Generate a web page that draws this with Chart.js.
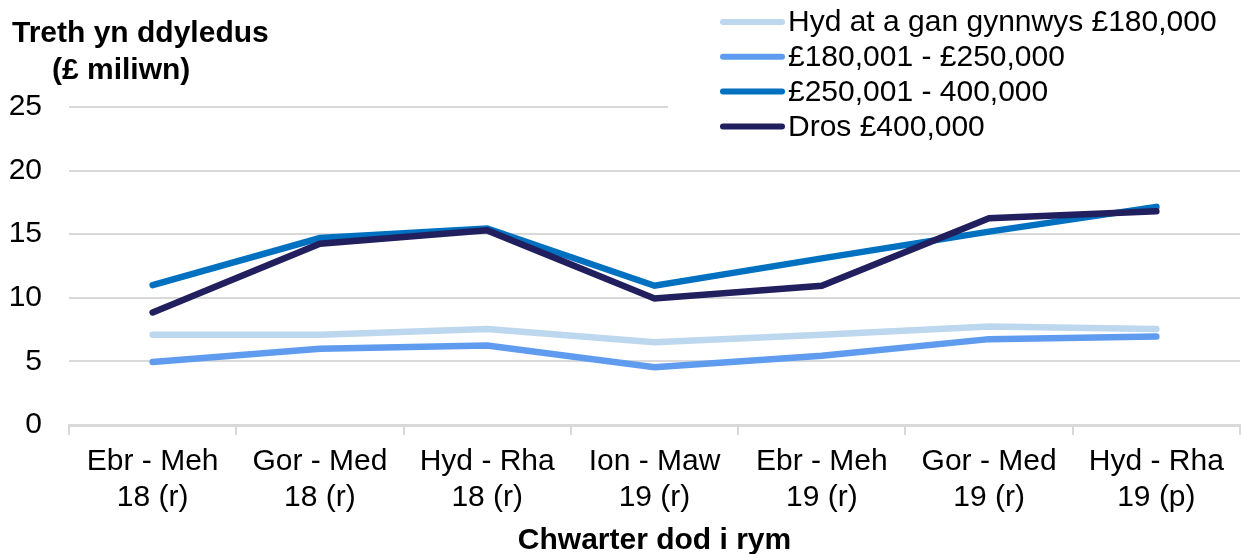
<!DOCTYPE html>
<html>
<head>
<meta charset="utf-8">
<script src="https://cdn.jsdelivr.net/npm/chart.js@4/dist/chart.umd.min.js"></script>
<style>
  html, body { margin: 0; padding: 0; background: #fff; }
  #wrap { width: 1241px; height: 554px; position: relative; }
</style>
</head>
<body>
<div id="wrap"><canvas id="taxChart"></canvas></div>
<script>
// Chwarter dod i rym
const categories = [
    ['Ebr - Meh', '18 (r)'],
    ['Gor - Med', '18 (r)'],
    ['Hyd - Rha', '18 (r)'],
    ['Ion - Maw', '19 (r)'],
    ['Ebr - Meh', '19 (r)'],
    ['Gor - Med', '19 (r)'],
    ['Hyd - Rha', '19 (p)']
];

const seriesLabels = [
    'Hyd at a gan gynnwys £180,000',
    '£180,001 - £250,000',
    '£250,001 - 400,000',
    'Dros £400,000'
];

// £ miliwn
const upTo180k = [7.1, 7.1, 7.55, 6.5, 7.1, 7.75, 7.55];
const from180kTo250k = [4.95, 6.0, 6.25, 4.55, 5.45, 6.75, 6.95];
const from250kTo400k = [11.0, 14.7, 15.45, 10.95, 13.1, 15.2, 17.15];
const over400k = [8.85, 14.25, 15.3, 9.95, 10.95, 16.25, 16.8];

const yTicks = [0, 5, 10, 15, 20, 25];

const colours = ['#bdd7ee', '#5f9cef', '#0070c0', '#221f5f'];
const FONT = 'Liberation Sans, Arial, sans-serif';

// teitl echel y a'r allwedd, wedi'u tynnu â llaw
const extrasPlugin = {
    id: 'extras',
    afterDraw(chart) {
        const ctx = chart.ctx;
        ctx.save();
        ctx.fillStyle = '#000';
        ctx.font = 'bold 30px ' + FONT;
        ctx.textBaseline = 'middle';
        ctx.textAlign = 'left';
        ctx.fillText('Treth yn ddyledus', 12, 34);
        ctx.fillText('(£ miliwn)', 52, 71);

        // allwedd
        ctx.fillStyle = '#fff';
        ctx.fillRect(668, 0, chart.width - 668, 145);
        chart.data.datasets.forEach((ds, i) => {
            const y = 22 + i * 34.8;
            ctx.strokeStyle = ds.borderColor;
            ctx.lineWidth = 6;
            ctx.lineCap = 'round';
            ctx.beginPath();
            ctx.moveTo(723, y);
            ctx.lineTo(782, y);
            ctx.stroke();
            ctx.fillStyle = '#000';
            ctx.font = '30px ' + FONT;
            ctx.fillText(ds.label, 788, y + 1);
        });
        ctx.restore();
    }
};

const ctx = document.getElementById('taxChart').getContext('2d');
new Chart(ctx, {
    type: 'line',
    data: {
        labels: categories,
        datasets: [upTo180k, from180kTo250k, from250kTo400k, over400k].map((d, i) => ({
            label: seriesLabels[i],
            data: d,
            borderColor: colours[i],
            backgroundColor: colours[i],
            borderWidth: 6.5,
            borderCapStyle: 'round',
            pointRadius: 0,
            pointHoverRadius: 0,
            tension: 0,
            order: 4 - i
        }))
    },
    options: {
        responsive: true,
        maintainAspectRatio: false,
        animation: false,
        layout: {
            padding: { top: 107, right: 1, left: 0, bottom: 0 }
        },
        plugins: {
            legend: { display: false },
            tooltip: { enabled: false }
        },
        scales: {
            x: {
                offset: true,
                afterFit(scale) { scale.height = 129; },
                grid: {
                    offset: true,
                    drawOnChartArea: false,
                    drawTicks: true,
                    tickLength: 10,
                    color: '#d9d9d9',
                    lineWidth: 2
                },
                border: { display: true, color: '#d9d9d9', width: 3 },
                ticks: {
                    color: '#000',
                    font: { family: FONT, size: 30 },
                    padding: 9,
                    maxRotation: 0,
                    autoSkip: false
                },
                title: {
                    display: true,
                    text: 'Chwarter dod i rym',
                    color: '#000',
                    font: { family: FONT, size: 30, weight: 'bold' },
                    padding: { top: 0, bottom: -5 }
                }
            },
            y: {
                min: 0,
                max: 25,
                afterFit(scale) { scale.width = 69; },
                afterBuildTicks(scale) { scale.ticks = yTicks.map(v => ({ value: v })); },
                grid: {
                    color: '#d9d9d9',
                    lineWidth: 2,
                    drawTicks: false
                },
                border: { display: false },
                ticks: {
                    color: '#000',
                    font: { family: FONT, size: 30 },
                    padding: 27
                }
            }
        }
    },
    plugins: [extrasPlugin]
});
</script>
</body>
</html>
